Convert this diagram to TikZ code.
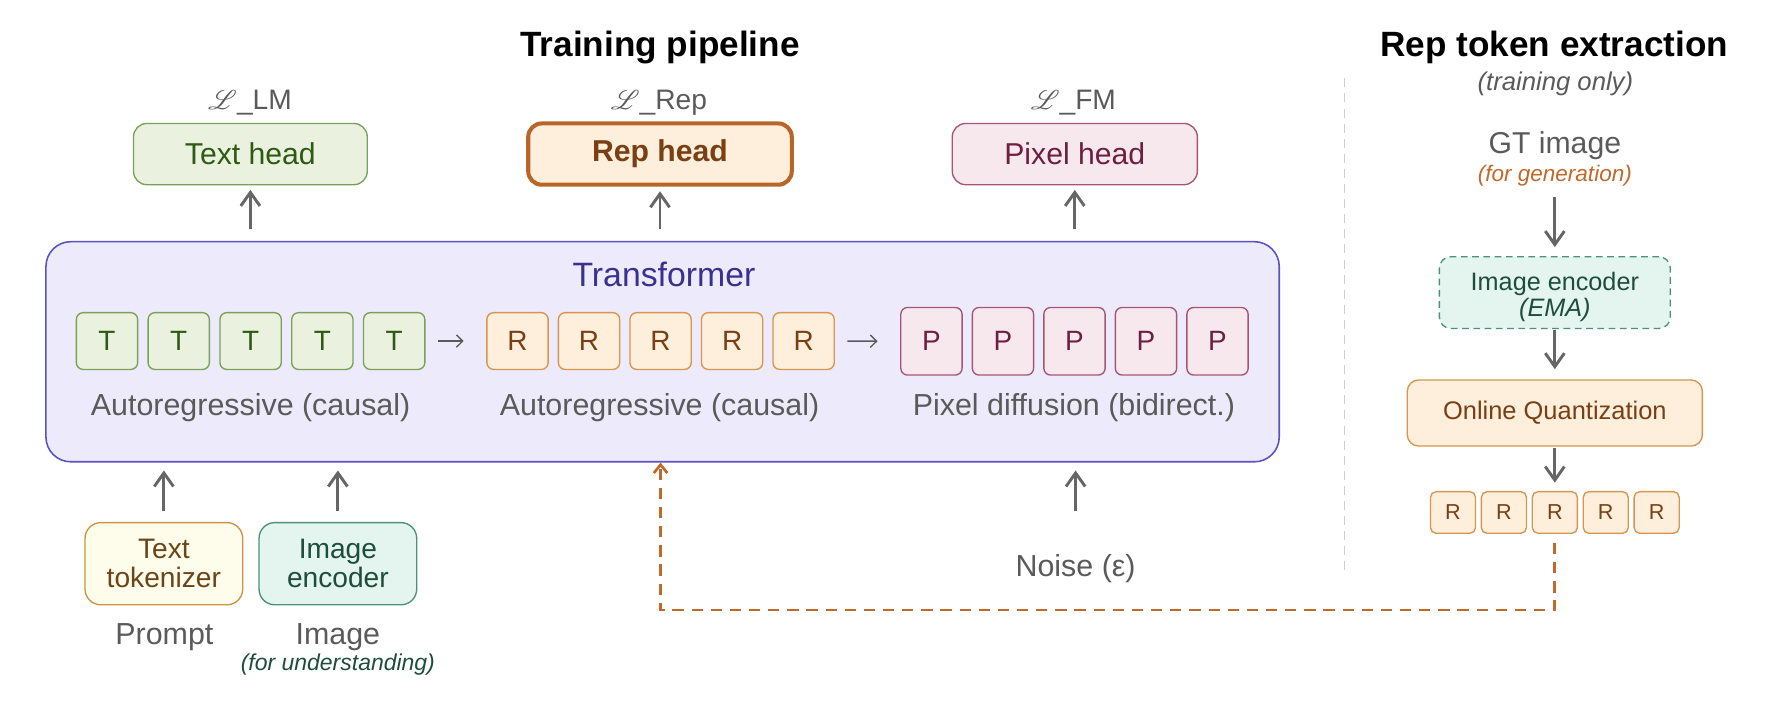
\documentclass[tikz,border=0pt]{standalone}
\usepackage{fontspec}
\setmainfont{Liberation Sans}
\usepackage{mathrsfs}
\usetikzlibrary{arrows.meta}
\definecolor{txtgray}{HTML}{5A5A5A}
\definecolor{arrgray}{HTML}{666666}
\definecolor{sepgray}{HTML}{CFCFCF}
\definecolor{tfFill}{HTML}{EDEBFB}
\definecolor{tfDraw}{HTML}{5B52C0}
\definecolor{tfText}{HTML}{3B2F8F}
\definecolor{grFill}{HTML}{EAF2DF}
\definecolor{grDraw}{HTML}{7AA05A}
\definecolor{grText}{HTML}{2E5A12}
\definecolor{orFill}{HTML}{FDEFDC}
\definecolor{orDraw}{HTML}{D69550}
\definecolor{orDark}{HTML}{B8652A}
\definecolor{orText}{HTML}{7A3F12}
\definecolor{pkFill}{HTML}{F7E8EE}
\definecolor{pkDraw}{HTML}{A65674}
\definecolor{pkText}{HTML}{6E1F3F}
\definecolor{yeFill}{HTML}{FEFCEA}
\definecolor{yeDraw}{HTML}{C9963F}
\definecolor{yeText}{HTML}{6B4517}
\definecolor{tlFill}{HTML}{E4F5EF}
\definecolor{tlDraw}{HTML}{4A9278}
\definecolor{tlText}{HTML}{1E4D3C}
\definecolor{flowor}{HTML}{C0692A}
\tikzset{
  heading/.style={anchor=base,font=\bfseries\fontsize{15.6}{18}\selectfont},
  lbl/.style={anchor=base,text=txtgray,inner sep=0pt,font=\fontsize{13.5}{16}\selectfont},
  note/.style={anchor=base,inner sep=0pt,font=\itshape\fontsize{10.2}{12}\selectfont},
  head/.style={shape=rectangle,rounded corners=6pt,minimum height=27.2pt,line width=0.6pt,font=\fontsize{13.4}{16}\selectfont},
  tok/.style={shape=rectangle,rounded corners=3pt,minimum width=27.2pt,minimum height=25.2pt,inner sep=0pt,line width=0.6pt,font=\fontsize{12.4}{14}\selectfont},
  gtok/.style={tok,fill=grFill,draw=grDraw,text=grText},
  rtok/.style={tok,fill=orFill,draw=orDraw,text=orText},
  ptok/.style={tok,fill=pkFill,draw=pkDraw,text=pkText,minimum height=30pt},
  qtok/.style={rtok,minimum width=20pt,minimum height=18.5pt,rounded corners=2.5pt,font=\fontsize{9.6}{11}\selectfont},
  inbox/.style={shape=rectangle,rounded corners=7pt,minimum width=70pt,minimum height=36.5pt,inner sep=0pt,align=center,line width=0.6pt,font=\fontsize{12.5}{13}\selectfont},
  sidebox/.style={shape=rectangle,rounded corners=5pt,inner sep=0pt,align=center,line width=0.6pt,font=\fontsize{11.2}{11.4}\selectfont},
  uparr/.style={draw=arrgray,line width=1.3pt,-{Straight Barb[length=6pt,width=8.5pt]}},
  seqarr/.style={draw=txtgray,line width=0.6pt,-{Straight Barb[length=2.8pt,width=5.5pt]},shorten <=5.5pt,shorten >=10pt},
  repflow/.style={draw=flowor,line width=1.2pt,dash pattern=on 5pt off 3.5pt,-{Straight Barb[length=3.7pt,width=6pt]}},
  sepline/.style={draw=sepgray,line width=0.6pt,dash pattern=on 4pt off 2.7pt}
}
\begin{document}
\begin{tikzpicture}[x=0.5pt,y=-0.5pt]\useasboundingbox (0,0) rectangle (1568,622);
\node[heading] (train) at (586,50) {Training pipeline};
\node[heading] (extract) at (1380,50) {Rep token extraction};
\node[note,text=txtgray,font=\itshape\fontsize{11.4}{13}\selectfont] (only) at (1381,80) {(training only)};
\draw[sepline] (1194,69.6) -- (1194,507.6);

\node[lbl,font=\fontsize{12.5}{15}\selectfont] (llm) at (222,97) {$\mathscr{L}$\_LM};
\node[lbl,font=\fontsize{12.5}{15}\selectfont] (lrep) at (585,97) {$\mathscr{L}$\_Rep};
\node[lbl,font=\fontsize{12.5}{15}\selectfont] (lfm) at (953,97) {$\mathscr{L}$\_FM};
\node[head,fill=grFill,draw=grDraw,text=grText,minimum width=103.8pt] (texthead) at (222.3,136.8) {Text head};
\node[head,fill=orFill,draw=orDark,text=orText,line width=1.8pt,minimum width=117pt,font=\bfseries\fontsize{13.4}{16}\selectfont] (rephead) at (586,136.8) {Rep head};
\node[head,fill=pkFill,draw=pkDraw,text=pkText,minimum width=108.8pt] (pixhead) at (954.3,136.8) {Pixel head};

\node[shape=rectangle,rounded corners=11pt,fill=tfFill,draw=tfDraw,line width=0.7pt,minimum width=547.5pt,minimum height=97.7pt] (tf) at (588.3,312.3) {};
\node[anchor=base,text=tfText,font=\fontsize{15}{18}\selectfont] (tftitle) at (589.5,254.5) {Transformer};
\node[gtok] (t1) at (95,302.8) {T};
\node[gtok] (t2) at (158.7,302.8) {T};
\node[gtok] (t3) at (222.5,302.8) {T};
\node[gtok] (t4) at (286.2,302.8) {T};
\node[gtok] (t5) at (350,302.8) {T};
\node[rtok] (r1) at (459.5,302.8) {R};
\node[rtok] (r2) at (523,302.8) {R};
\node[rtok] (r3) at (586.5,302.8) {R};
\node[rtok] (r4) at (650,302.8) {R};
\node[rtok] (r5) at (713.5,302.8) {R};
\node[ptok] (p1) at (827,303) {P};
\node[ptok] (p2) at (890.5,303) {P};
\node[ptok] (p3) at (954,303) {P};
\node[ptok] (p4) at (1017.5,303) {P};
\node[ptok] (p5) at (1081,303) {P};
\node[lbl] (ar1) at (222.5,368.5) {Autoregressive (causal)};
\node[lbl] (ar2) at (585.6,368.5) {Autoregressive (causal)};
\node[lbl] (pdiff) at (953.5,368.5) {Pixel diffusion (bidirect.)};

\node[inbox,fill=yeFill,draw=yeDraw,text=yeText] (tokzr) at (145.5,500.5) {Text\\tokenizer};
\node[inbox,fill=tlFill,draw=tlDraw,text=tlText] (imgenc) at (300,500.5) {Image\\encoder};
\node[lbl] (prompt) at (146,572) {Prompt};
\node[lbl] (image) at (300,572) {Image};
\node[note,text=tlText] (under) at (300,595) {(for understanding)};
\node[lbl] (noise) at (955,512) {Noise (ε)};

\node[lbl,font=\fontsize{13.4}{16}\selectfont] (gt) at (1380.5,136.7) {GT image};
\node[note,text=flowor,font=\itshape\fontsize{10}{12}\selectfont] (gen) at (1380.5,161.3) {(for generation)};
\node[sidebox,fill=tlFill,draw=tlDraw,text=tlText,dash pattern=on 3pt off 2pt,minimum width=102.5pt,minimum height=31.8pt] (ema) at (1380.5,259.8) {\raisebox{-2.5pt}[\height][\depth]{\begin{tabular}{@{}c@{}}Image encoder\\\textit{(EMA)}\end{tabular}}};
\node[sidebox,fill=orFill,draw=orDraw,text=orText,minimum width=131pt,minimum height=29.3pt,font=\fontsize{11.3}{13}\selectfont] (oq) at (1380.5,366.7) {Online Quantization};
\node[qtok] (q1) at (1290.1,455) {R};
\node[qtok] (q2) at (1335.3,455) {R};
\node[qtok] (q3) at (1380.5,455) {R};
\node[qtok] (q4) at (1425.7,455) {R};
\node[qtok] (q5) at (1470.9,455) {R};
\coordinate (back) at (586.5,541.6);

\path (t5) edge[seqarr] (r1);
\path (r5) edge[seqarr] (p1);
\path (tf.north -| texthead) edge[uparr,shorten <=5.3pt,shorten >=2pt] (texthead);
\path (tf.north -| rephead) edge[uparr,shorten <=5.3pt,shorten >=2pt] (rephead);
\path (tf.north -| pixhead) edge[uparr,shorten <=5.3pt,shorten >=2pt] (pixhead);
\path (tokzr) edge[uparr,shorten <=5pt,shorten >=3.5pt] (tf.south -| tokzr);
\path (imgenc) edge[uparr,shorten <=5pt,shorten >=3.5pt] (tf.south -| imgenc);
\path ([yshift=29pt]noise.base) edge[uparr,shorten >=3.5pt] (tf.south -| noise);
\path ([yshift=-6.6pt]gen.base) edge[uparr,shorten >=4pt] (ema);
\path (ema) edge[uparr,shorten <=0.5pt,shorten >=4.5pt] (oq);
\path (oq) edge[uparr,shorten <=0.5pt,shorten >=3.7pt] (q3);
\draw [repflow,shorten <=4pt] (q3.south) |- (back) -- (tf.south -| back);
\end{tikzpicture}
\end{document}
